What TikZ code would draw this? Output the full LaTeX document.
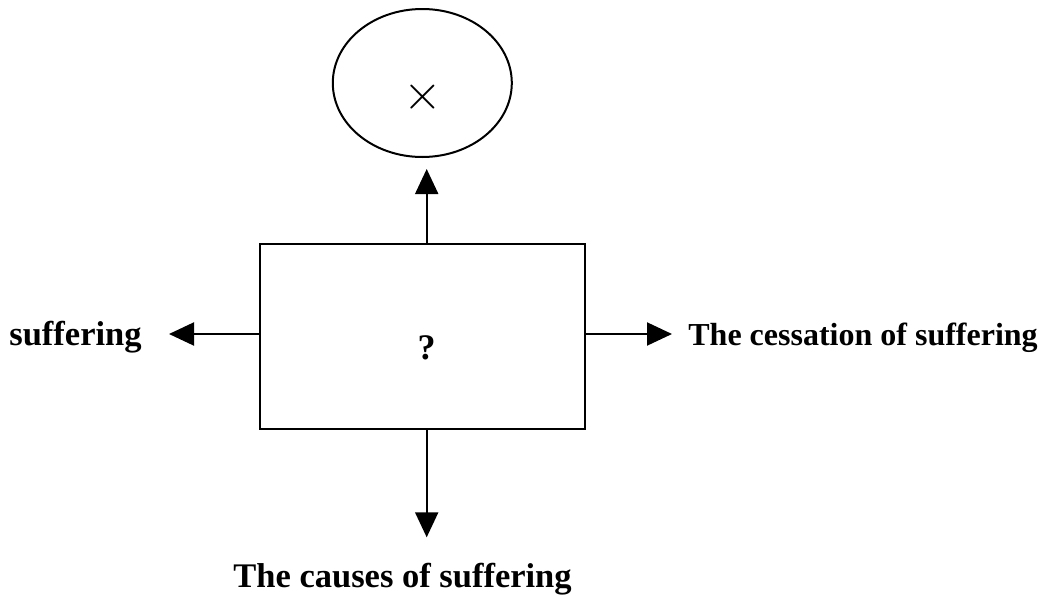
\documentclass[tikz,border=0pt]{standalone}
\usepackage{fontspec}
\setmainfont{Liberation Serif}
\usetikzlibrary{positioning}
\usetikzlibrary{arrows.meta}
\usetikzlibrary{shapes.geometric}
\tikzset{x=0.5pt, y=-0.5pt,   % one unit is one pixel of the original drawing
    box/.style={              % The middle box
        draw, line width=1pt,
        minimum width=162.75pt, minimum height=92.5pt,
        inner sep=0pt},
    goal/.style={             % The oval on top
        ellipse, draw, line width=1pt,
        minimum width=89.5pt, minimum height=74pt,
        inner sep=0pt},
    txt/.style={              % Bold labels round the box
        inner sep=0pt,
        font=\bfseries\fontsize{17.25}{20}\selectfont},
    arr/.style={              % Arrows with filled heads
        draw, line width=1pt,
        -{Triangle[length=12.5pt,width=11.5pt]}}}

\begin{document}
\begin{tikzpicture}
    \useasboundingbox (0,0) rectangle (1045,595);
    \coordinate (axis) at (426.7,0);
    \coordinate (row) at (0,334);

    \node[box] (box) at (422.3,336.7) {};
    \node[inner sep=0pt, font=\bfseries\fontsize{18}{20}\selectfont] (qmark) at (axis |- 0,348) {?};
    \node[goal] (goal) at (422.3,83) {};
    \node[inner sep=0pt, font=\fontsize{27}{27}\selectfont] (cross) at (423,97) {$\times$};

    \node[txt, anchor=base east] (suff) at (142,345) {suffering};
    \node[txt, anchor=base west, font=\bfseries\fontsize{16}{20}\selectfont] (cess) at (688,345) {The cessation of suffering};
    \node[txt, anchor=base west] (causes) at (233,587) {The causes of suffering};

    \draw[arr, shorten >=5.5pt] (axis |- box.north) -- (axis |- goal.south);
    \draw[arr, shorten >=13.5pt] (box.west |- row) -- (suff.east |- row);
    \draw[arr, shorten >=8pt] (box.east |- row) -- (cess.west |- row);
    \draw[arr, shorten >=12.5pt] (axis |- box.south) -- (axis |- causes.north);
\end{tikzpicture}
\end{document}
